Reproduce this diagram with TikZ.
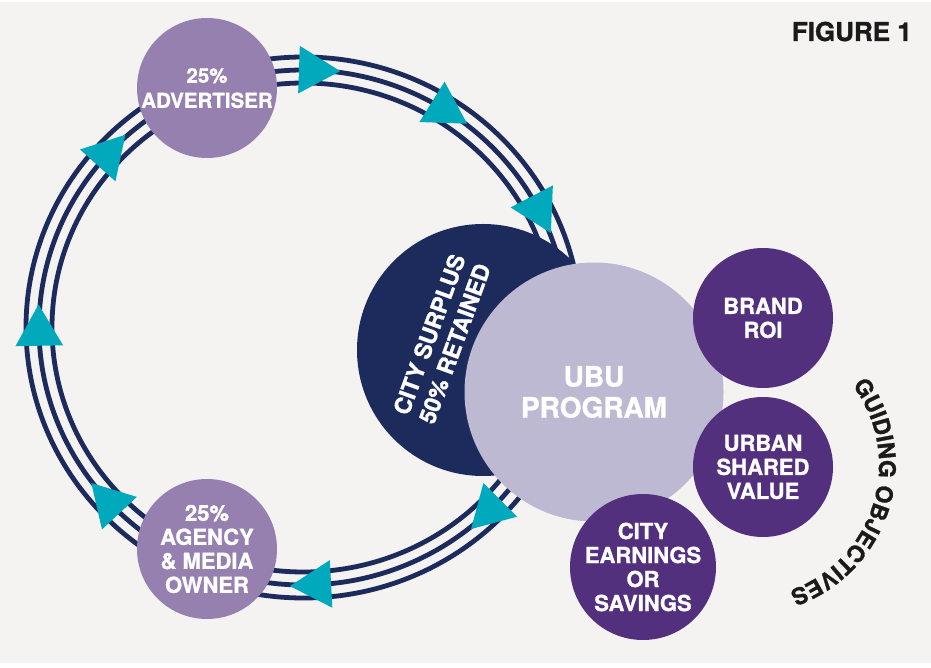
\documentclass[tikz,border=0pt]{standalone}
\usepackage{fontspec}
\setmainfont{TeX Gyre Heros}[BoldFeatures={FakeBold=1.2}]
\usetikzlibrary{shapes.geometric,decorations.text}
\definecolor{bg}{HTML}{F4F3F1}
\definecolor{navy}{HTML}{1C2B5B}
\definecolor{arr}{HTML}{00A9BC}
\definecolor{lilac}{HTML}{9680AF}
\definecolor{ubuc}{HTML}{BEB9D3}
\definecolor{plum}{HTML}{52307D}
\definecolor{ink}{HTML}{1A1A1A}

\begin{document}
\begin{tikzpicture}[x=1pt,y=1pt,
    bubble/.style={circle,inner sep=0pt,minimum size=140pt,text=white,align=center,font=\bfseries\fontsize{22}{24}\selectfont},
    tri/.style={regular polygon,regular polygon sides=3,fill=arr,inner sep=0pt,minimum size=55pt},
    ringline/.style={draw=navy,line width=4.8pt}]
    \fill[white] (0,0) rectangle (931,667);
    \fill[bg] (0,4) rectangle (931,665);
    \useasboundingbox (0,0) rectangle (931,667);
    % three-line loop
    \coordinate (ring) at (303.5,339.5);
    \draw[ringline] (ring) ellipse[x radius=277.5pt,y radius=270.5pt];
    \draw[ringline] (ring) ellipse[x radius=264.5pt,y radius=257.5pt];
    \draw[ringline] (ring) ellipse[x radius=251.5pt,y radius=244.5pt];
    % bubbles
    \node[bubble,fill=lilac,font=\bfseries\fontsize{20.5}{25}\selectfont] (adv) at (207,579) {25\%\\ADVERTISER};
    \node[bubble,fill=lilac] (agency) at (207,118) {25\%\\AGENCY\\\& MEDIA\\OWNER};
    \node[circle,fill=navy,inner sep=0pt,minimum size=252pt] (surplus) at (483,317) {};
    \node[rotate=70,align=center,text=white,font=\bfseries\fontsize{23}{27}\selectfont] (surtxt) at (442,328) {CITY SURPLUS\\50\% RETAINED};
    \node[circle,fill=ubuc,inner sep=0pt,minimum size=259pt,text=white,align=center,font=\bfseries\fontsize{28}{31}\selectfont] (ubu) at (594,275) {UBU\\PROGRAM};
    \node[bubble,fill=plum] (brand) at (763,349) {BRAND\\ROI};
    \node[bubble,fill=plum] (urban) at (763,200) {URBAN\\SHARED\\VALUE};
    \node[bubble,fill=plum] (earn) at (643,100) {CITY\\EARNINGS\\OR\\SAVINGS};
    % arrow heads on the loop
    \node[tri,rotate=28] (a1) at ([shift={(88:264.5pt and 257.5pt)}]ring) {};
    \node[tri,rotate=-2] (a2) at ([shift={(58:264.5pt and 257.5pt)}]ring) {};
    \node[tri,rotate=-32.5] (a3) at ([shift={(27.5:264.5pt and 257.5pt)}]ring) {};
    \node[tri,rotate=-105] (a4) at ([shift={(-45:264.5pt and 257.5pt)}]ring) {};
    \node[tri,rotate=-147] (a5) at ([shift={(-87:264.5pt and 257.5pt)}]ring) {};
    \node[tri,rotate=163] (a6) at ([shift={(-137:264.5pt and 257.5pt)}]ring) {};
    \node[tri,rotate=121] (a7) at ([shift={(181:264.5pt and 257.5pt)}]ring) {};
    \node[tri,rotate=78] (a8) at ([shift={(138:264.5pt and 257.5pt)}]ring) {};
    % labels
    \coordinate (gc) at (746,202);
    \path[decorate,decoration={text along path,text align=center,
        text={|\color{ink}\bfseries\fontsize{23}{23}\selectfont|GUIDING OBJECTIVES}}]
        ([shift={(40:133pt)}]gc) arc[start angle=40,end angle=-74,radius=133pt];
    \node[anchor=base east,inner sep=0pt,text=ink,font=\bfseries\fontsize{26}{26}\selectfont] (fig) at (912,626) {FIGURE 1};
\end{tikzpicture}
\end{document}
